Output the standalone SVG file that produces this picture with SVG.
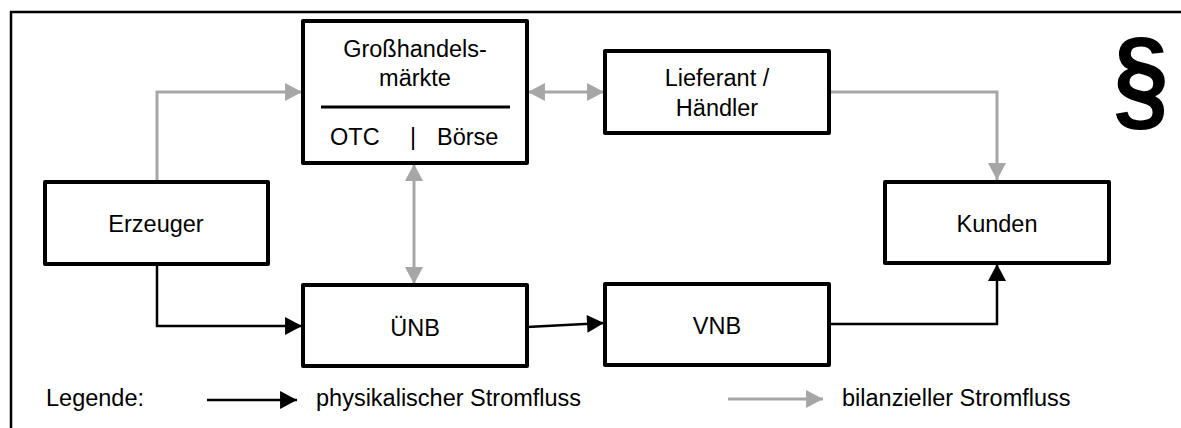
<svg xmlns="http://www.w3.org/2000/svg" width="1181" height="428" viewBox="0 0 1181 428">
<style>
.box{fill:#fff;stroke:#000;stroke-width:4;stroke-linejoin:round}
.t{font-family:"Liberation Sans",Arial,sans-serif;font-size:23.5px;fill:#000}
.c{text-anchor:middle}
.gray{fill:none;stroke:#a6a6a6;stroke-width:3}
.blk{fill:none;stroke:#000;stroke-width:2.5}
</style>
<defs>
<marker id="ag" markerUnits="userSpaceOnUse" markerWidth="18" markerHeight="18" refX="16" refY="8.5" orient="auto-start-reverse" viewBox="0 0 16 17">
<path d="M0,0 L16,8.5 L0,17 Z" fill="#a6a6a6"/>
</marker>
<marker id="ab" markerUnits="userSpaceOnUse" markerWidth="18" markerHeight="18" refX="16" refY="8.5" orient="auto" viewBox="0 0 16 17">
<path d="M0,0 L16,8.5 L0,17 Z" fill="#000"/>
</marker>
</defs>
<g id="frame">
<path d="M11,428 V12 H1181" fill="none" stroke="#000" stroke-width="2.5"/>
</g>
<g id="connectors">
<path class="gray" d="M157,182 V92 H302" marker-end="url(#ag)"/>
<path class="gray" d="M528,92 H604" marker-start="url(#ag)" marker-end="url(#ag)"/>
<path class="gray" d="M829,92 H997 V180" marker-end="url(#ag)"/>
<path class="gray" d="M414,164 V284" marker-start="url(#ag)" marker-end="url(#ag)"/>
<path class="blk" d="M157,263 V326 H302" marker-end="url(#ab)"/>
<path class="blk" d="M527,327 L604,323" marker-end="url(#ab)"/>
<path class="blk" d="M829,324 H997 V264" marker-end="url(#ab)"/>
</g>
<g id="grosshandel">
<rect class="box" x="303" y="21" width="224" height="142"/>
<line x1="321" y1="107" x2="510" y2="107" stroke="#000" stroke-width="3"/>
<text class="t c" x="415" y="57">Großhandels-</text>
<text class="t c" x="415" y="86">märkte</text>
<text class="t" y="145"><tspan x="330">OTC</tspan><tspan x="410">|</tspan><tspan x="437">Börse</tspan></text>
</g>
<g id="lieferant">
<rect class="box" x="605" y="51" width="224" height="82"/>
<text class="t c" x="717" y="86">Lieferant /</text>
<text class="t c" x="717" y="116">Händler</text>
</g>
<g id="paragraph">
<text transform="translate(1141,117) scale(0.87,1)" x="0" y="0" text-anchor="middle" font-family="Liberation Sans,Arial,sans-serif" font-weight="bold" font-size="115">§</text>
</g>
<g id="erzeuger">
<rect class="box" x="45" y="182" width="223" height="82"/>
<text class="t c" x="156" y="232">Erzeuger</text>
</g>
<g id="kunden">
<rect class="box" x="885" y="182" width="224" height="81"/>
<text class="t c" x="997" y="232">Kunden</text>
</g>
<g id="uenb">
<rect class="box" x="303" y="285" width="224" height="81"/>
<text class="t c" x="415" y="336">ÜNB</text>
</g>
<g id="vnb">
<rect class="box" x="605" y="284" width="224" height="81"/>
<text class="t c" x="717" y="334">VNB</text>
</g>
<g id="legend">
<text class="t" x="46" y="406">Legende:</text>
<line class="blk" x1="207" y1="400" x2="297" y2="400" marker-end="url(#ab)"/>
<text class="t" x="316" y="406">physikalischer Stromfluss</text>
<line class="gray" x1="728" y1="399" x2="823" y2="399" marker-end="url(#ag)"/>
<text class="t" x="842" y="406">bilanzieller Stromfluss</text>
</g>
</svg>
